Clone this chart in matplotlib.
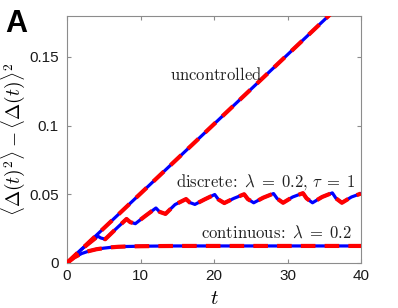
import matplotlib
matplotlib.use("Agg")
import matplotlib.pyplot as plt

plt.rcParams["mathtext.fontset"] = "cm"
plt.rcParams["font.family"] = ["Liberation Sans", "DejaVu Sans"]

# values
t_unc = [0, 40]
v_unc = [0, 0.202]

t_cont = [0, 1, 2, 3, 4, 5, 6, 7, 8, 10, 12, 15, 20, 25, 30, 35, 40]
v_cont = [0, 0.0041, 0.0069, 0.0087, 0.0100, 0.0108, 0.0114, 0.0118, 0.0120,
          0.0122, 0.0123, 0.0124, 0.0124, 0.0124, 0.0124, 0.0124, 0.0124]

t_disc = [0, 2, 4.2, 4.6, 5.2, 6.5, 8.1, 8.6, 9.3, 10.6, 12.1, 12.6, 13.4,
          14.7, 16.2, 16.7, 17.4, 18.7, 20.1, 20.6, 21.4, 22.7, 24.1, 24.6,
          25.4, 26.7, 28.1, 28.6, 29.4, 30.7, 32.1, 32.6, 33.4, 34.7, 36.1,
          36.6, 37.4, 38.7, 40]
v_disc = [0, 0.0101, 0.0195, 0.0182, 0.0173, 0.0240, 0.0320, 0.0297, 0.0286,
          0.0340, 0.0400, 0.0372, 0.0357, 0.0425, 0.0465, 0.0440, 0.0426,
          0.0462, 0.0498, 0.0462, 0.0436, 0.0470, 0.0500, 0.0465, 0.0438,
          0.0475, 0.0505, 0.0468, 0.0438, 0.0480, 0.0508, 0.0470, 0.0438,
          0.0480, 0.0510, 0.0470, 0.0438, 0.0480, 0.0505]

xticks = [0, 10, 20, 30, 40]
yticks = [0, 0.05, 0.1, 0.15]
yticklabels = ["0", "0.05", "0.1", "0.15"]

fig = plt.figure(figsize=(3.98, 3.08), dpi=100)
ax = fig.add_axes([67 / 398, 45 / 308, 294 / 398, 247.5 / 308])

dash = (0, (3.5, 2.2))
for t, v in [(t_unc, v_unc), (t_disc, v_disc), (t_cont, v_cont)]:
    ax.plot(t, v, color="blue", lw=2.3, solid_capstyle="round", zorder=2)
for t, v in [(t_unc, v_unc), (t_disc, v_disc), (t_cont, v_cont)]:
    ax.plot(t, v, color="red", lw=3.0, linestyle=dash, zorder=3)

ax.set_xlim(0, 40)
ax.set_ylim(0, 0.18)
ax.set_xticks(xticks)
ax.set_yticks(yticks)
ax.set_yticklabels(yticklabels)

grey = "#8c8c8c"
for s in ax.spines.values():
    s.set_color(grey)
    s.set_linewidth(0.8)
ax.tick_params(direction="in", length=3, width=0.8, color=grey,
               top=True, right=True, labelsize=11, labelcolor="#1a1a1a")
ax.tick_params(axis="x", pad=4)
ax.tick_params(axis="y", pad=6)

ax.set_xlabel(r"$t$", fontsize=15)
ax.xaxis.set_label_coords(0.5, -(298 - 263) / 247.5, transform=ax.transAxes)
ax.xaxis.label.set_va("center")
ax.set_ylabel(r"$\langle\Delta(t)^2\rangle-\langle\Delta(t)\rangle^2$", fontsize=14)
ax.yaxis.set_label_coords(-(67 - 13) / 294, 0.5, transform=ax.transAxes)
ax.yaxis.label.set_va("center")

ax.text(170 / 398, 1 - 80 / 308, r"$\mathrm{uncontrolled}$", transform=fig.transFigure,
        fontsize=12, va="baseline", ha="left", color="#222222")
ax.text(356 / 398, 1 - 187 / 308, r"$\mathrm{discrete\!:}\ \lambda\;=\;0.2,\,\tau\;=\;1$",
        transform=fig.transFigure, fontsize=12, va="baseline", ha="right", color="#222222")
ax.text(352 / 398, 1 - 238 / 308, r"$\mathrm{continuous\!:}\ \lambda\;=\;0.2$",
        transform=fig.transFigure, fontsize=12, va="baseline", ha="right", color="#222222")

fig.text(5 / 398, 1 - 32 / 308, "A", fontsize=22, fontweight="bold",
         va="baseline", ha="left")

fig.savefig("out.png", dpi=100)
